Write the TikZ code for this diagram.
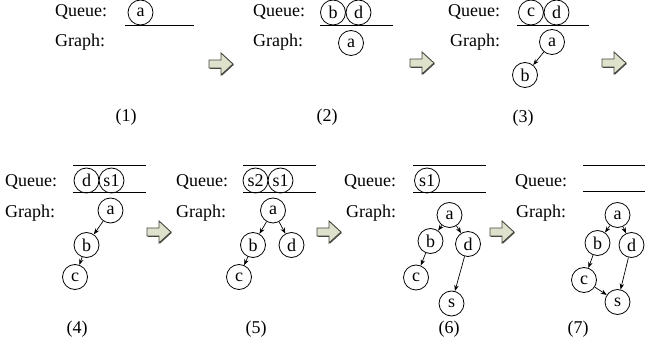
\documentclass[tikz,border=0pt]{standalone}
\usepackage{fontspec}
\setmainfont{Liberation Serif}
\usetikzlibrary{arrows.meta}

\definecolor{arrowfill}{RGB}{222,226,204}
\definecolor{arrowline}{RGB}{70,72,64}

\begin{document}
\begin{tikzpicture}[x=1pt,y=-1pt,
  font=\fontsize{18}{20}\selectfont,
  vtx/.style={circle,draw,line width=0.8pt,minimum size=25pt,inner sep=0pt},
  lbl/.style={anchor=base west,inner sep=0pt},
  num/.style={inner sep=0pt},
  qline/.style={line width=0.9pt},
  edge/.style={line width=0.7pt,-{Stealth[length=6pt,width=4.5pt]}},
  blockarr/.pic={
    \fill[arrowline] (0.8,-3.2) -- (12.8,-3.2) -- (12.8,-10.2) -- (24.8,0.8)
      -- (12.8,11.8) -- (12.8,4.8) -- (0.8,4.8) -- cycle;
    \draw[fill=arrowfill,draw=arrowline,line width=0.9pt,line join=miter]
      (0,-4) -- (12,-4) -- (12,-11) -- (24,0) -- (12,11) -- (12,4) -- (0,4) -- cycle;
  }]
\useasboundingbox (0,0) rectangle (645,347);

% ---- step (1)
\node[lbl] (q1) at (55,17) {Queue:};
\node[lbl] (g1) at (55,47) {Graph:};
\node[vtx] (q1a) at (140.5,12.5) {a};
\coordinate (l1a) at (125,25); \coordinate (l1b) at (194,25);
\draw[qline] (l1a) -- (l1b);
\node[num] (n1) at (126,117) {(1)};
\pic at (209,64) {blockarr};

% ---- step (2)
\node[lbl] (q2) at (253,17) {Queue:};
\node[lbl] (g2) at (253,47) {Graph:};
\node[vtx] (q2b) at (333,12.5) {b};
\node[vtx] (q2d) at (358.5,12.5) {d};
\coordinate (l2a) at (320,25); \coordinate (l2b) at (393,25);
\draw[qline] (l2a) -- (l2b);
\node[vtx] (g2a) at (351,43) {a};
\node[num] (n2) at (327,117) {(2)};
\pic at (410,63) {blockarr};

% ---- step (3)
\node[lbl] (q3) at (448,17) {Queue:};
\node[lbl] (g3) at (450,47) {Graph:};
\node[vtx] (q3c) at (531,12.5) {c};
\node[vtx] (q3d) at (556.5,12.5) {d};
\coordinate (l3a) at (517,25); \coordinate (l3b) at (589,25);
\draw[qline] (l3a) -- (l3b);
\node[vtx] (g3a) at (552,42) {a};
\node[vtx] (g3b) at (525,75) {b};
\draw[edge] (g3a) -- (g3b);
\node[num] (n3) at (523,118) {(3)};
\pic at (602,63) {blockarr};

% ---- step (4)
\node[lbl] (q4) at (5,187) {Queue:};
\node[lbl] (g4) at (5,218) {Graph:};
\coordinate (t4a) at (73,165); \coordinate (t4b) at (146,165);
\coordinate (b4a) at (73,192); \coordinate (b4b) at (146,192);
\draw[qline] (t4a) -- (t4b);
\draw[qline] (b4a) -- (b4b);
\node[vtx] (q4d) at (86.5,180.5) {d};
\node[vtx] (q4s) at (111.5,180.5) {s1};
\node[vtx] (g4a) at (110.5,210.5) {a};
\node[vtx] (g4b) at (86.5,245) {b};
\node[vtx] (g4c) at (75,277) {c};
\draw[edge] (g4a) -- (g4b);
\draw[edge] (g4b) -- (g4c);
\node[num] (n4) at (77,329) {(4)};
\pic at (147,232) {blockarr};

% ---- step (5)
\node[lbl] (q5) at (176,187) {Queue:};
\node[lbl] (g5) at (176,218) {Graph:};
\coordinate (t5a) at (243,165); \coordinate (t5b) at (316,165);
\coordinate (b5a) at (243,192); \coordinate (b5b) at (316,192);
\draw[qline] (t5a) -- (t5b);
\draw[qline] (b5a) -- (b5b);
\node[vtx] (q5s2) at (255.5,180.5) {s2};
\node[vtx] (q5s1) at (280.5,180.5) {s1};
\node[vtx] (g5a) at (273,210.5) {a};
\node[vtx] (g5b) at (253,245) {b};
\node[vtx] (g5d) at (291.5,245) {d};
\node[vtx] (g5c) at (239,277) {c};
\draw[edge] (g5a) -- (g5b);
\draw[edge] (g5a) -- (g5d);
\draw[edge] (g5b) -- (g5c);
\node[num] (n5) at (256,329) {(5)};
\pic at (317,232) {blockarr};

% ---- step (6)
\node[lbl] (q6) at (344,187) {Queue:};
\node[lbl] (g6) at (346,218) {Graph:};
\coordinate (t6a) at (413,165); \coordinate (t6b) at (486,165);
\coordinate (b6a) at (413,192); \coordinate (b6b) at (486,192);
\draw[qline] (t6a) -- (t6b);
\draw[qline] (b6a) -- (b6b);
\node[vtx] (q6s1) at (427,180.5) {s1};
\node[vtx] (g6a) at (449.5,215) {a};
\node[vtx] (g6b) at (430.5,241) {b};
\node[vtx] (g6d) at (468,244) {d};
\node[vtx] (g6c) at (416,277.5) {c};
\node[vtx] (g6s) at (451.5,303.5) {s};
\draw[edge] (g6a) -- (g6b);
\draw[edge] (g6a) -- (g6d);
\draw[edge] (g6b) -- (g6c);
\draw[edge] (g6d) -- (g6s);
\node[num] (n6) at (449,329) {(6)};
\pic at (490,232) {blockarr};

% ---- step (7)
\node[lbl] (q7) at (515,187) {Queue:};
\node[lbl] (g7) at (516,218) {Graph:};
\coordinate (t7a) at (583,165); \coordinate (t7b) at (645,165);
\coordinate (b7a) at (583,191); \coordinate (b7b) at (645,191);
\draw[qline] (t7a) -- (t7b);
\draw[qline] (b7a) -- (b7b);
\node[vtx] (g7a) at (617.5,215) {a};
\node[vtx] (g7b) at (597.5,243) {b};
\node[vtx] (g7d) at (631.5,245) {d};
\node[vtx] (g7c) at (584,280) {c};
\node[vtx] (g7s) at (617.5,302) {s};
\draw[edge] (g7a) -- (g7b);
\draw[edge] (g7a) -- (g7d);
\draw[edge] (g7b) -- (g7c);
\draw[edge] (g7c) -- (g7s);
\draw[edge] (g7d) -- (g7s);
\node[num] (n7) at (578,329) {(7)};
\end{tikzpicture}
\end{document}
